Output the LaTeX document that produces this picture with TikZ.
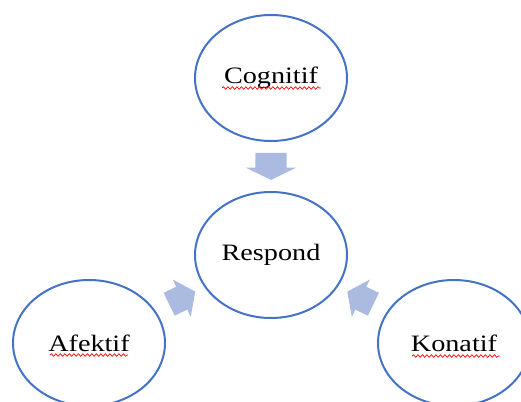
\documentclass[tikz,border=0pt]{standalone}
\usepackage{fontspec}
\setmainfont{Liberation Serif}[FakeStretch=1.2]
\usetikzlibrary{shapes.geometric, shapes.arrows, decorations.pathmorphing}
\definecolor{ringblue}{RGB}{68,114,196}
\definecolor{arrowfill}{RGB}{170,186,224}

\begin{document}
\begin{tikzpicture}[x=1pt, y=-1pt, bubble/.style={draw=ringblue, ellipse, line width=2pt, minimum width=152pt, minimum height=126pt, inner sep=0pt, font=\fontsize{23.5}{28}\selectfont}, down/.style={single arrow, fill=arrowfill, inner xsep=0pt, inner ysep=15.5pt, minimum height=27pt, single arrow head extend=9.5pt, single arrow head indent=0pt, single arrow tip angle=128, sloped, allow upside down}, side/.style={down, minimum height=29pt, inner ysep=12.5pt, single arrow head extend=8pt, single arrow tip angle=108}, spell/.style={red, line width=0.7pt, decorate, decoration={snake, amplitude=1.3pt, segment length=4.5pt}}]
            \useasboundingbox (0,0) rectangle (521,401);
            % nodes
            \node[bubble] (cog) at (271,78) {Cognitif};
            \node[bubble] (resp) at (271,255) {Respond};
            \node[bubble] (afek) at (89,343) {Afektif};
            \node[bubble] (kona) at (454,343) {Konatif};
            % edges
            \path (cog) -- node[down, pos=0.42] (a1) {} (resp);
            \path (afek) -- node[side, pos=0.46] (a2) {} (resp);
            \path (kona) -- node[side, pos=0.46] (a3) {} (resp);
            % spelling marks
            \draw[spell] ([xshift=-49pt, yshift=-10pt]cog.center) -- ([xshift=50pt, yshift=-10pt]cog.center);
            \draw[spell] ([xshift=-39pt, yshift=-12pt]afek.center) -- ([xshift=39pt, yshift=-12pt]afek.center);
            \draw[spell] ([xshift=-42pt, yshift=-13pt]kona.center) -- ([xshift=46pt, yshift=-13pt]kona.center);
        \end{tikzpicture}
\end{document}
